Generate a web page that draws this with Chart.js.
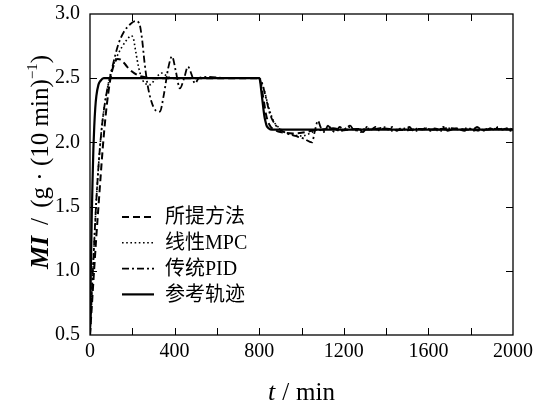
<!DOCTYPE html>
<html>
<head>
<meta charset="utf-8">
<script src="https://cdn.jsdelivr.net/npm/chart.js@4.4.1/dist/chart.umd.min.js"></script>
<style>
    html, body { margin: 0; padding: 0; background: #fff; }
    #wrap { width: 536px; height: 405px; }
</style>
</head>
<body>
<div id="wrap"><canvas id="myChart" width="536" height="405"></canvas></div>
<script>
// Data (t in min, MI in g/(10 min))
const seriesLabels = ['所提方法', '线性MPC', '传统PID', '参考轨迹'];

const tProp = [0, 10, 20, 30, 40, 50, 60, 70, 80, 95, 110, 130, 150, 175, 200, 230, 270, 320, 400, 500, 600, 700, 800,
    808, 816, 824, 832, 842, 855, 870, 890, 920, 960, 1000, 1050, 1100, 1150, 1200, 1260, 1320, 1380, 1440, 1500,
    1560, 1620, 1700, 1780, 1850, 1920, 2000];
const miProp = [0.5, 0.76, 1.02, 1.27, 1.5, 1.73, 1.95, 2.14, 2.3, 2.48, 2.59, 2.65, 2.64, 2.59, 2.55, 2.52, 2.505, 2.5, 2.5, 2.5, 2.5, 2.5, 2.5,
    2.46, 2.38, 2.3, 2.22, 2.16, 2.12, 2.1, 2.085, 2.075, 2.07, 2.075, 2.09, 2.1, 2.11, 2.095, 2.105, 2.1, 2.11, 2.1, 2.095,
    2.105, 2.1, 2.11, 2.1, 2.095, 2.105, 2.1];

const tMpc = [0, 15, 30, 45, 60, 80, 100, 125, 150, 175, 195, 205, 215, 228, 240, 260, 285, 310, 340, 370, 420, 500, 600, 700, 800,
    810, 825, 840, 855, 870, 890, 920, 960, 1000, 1040, 1080, 1105, 1130, 1160, 1190, 1220, 1250, 1285, 1320, 1355, 1390,
    1425, 1460, 1500, 1540, 1580, 1620, 1660, 1700, 1740, 1780, 1820, 1860, 1900, 1940, 1980, 2000];
const miMpc = [0.5, 1.05, 1.55, 1.92, 2.18, 2.4, 2.55, 2.66, 2.74, 2.8, 2.83, 2.81, 2.72, 2.6, 2.52, 2.46, 2.45, 2.5, 2.54, 2.51, 2.5, 2.5, 2.5, 2.5, 2.5,
    2.47, 2.4, 2.3, 2.22, 2.16, 2.12, 2.08, 2.06, 2.05, 2.07, 2.1, 2.08, 2.12, 2.1, 2.09, 2.12, 2.1, 2.08, 2.11, 2.1, 2.12,
    2.09, 2.1, 2.11, 2.09, 2.11, 2.1, 2.09, 2.11, 2.1, 2.11, 2.09, 2.1, 2.11, 2.1, 2.11, 2.1];

const tPid = [0, 15, 30, 45, 60, 80, 95, 115, 135, 160, 190, 215, 232, 245, 258, 272, 290, 310, 330, 350, 370, 388, 405, 425,
    445, 463, 480, 496, 515, 560, 650, 800,
    812, 830, 851, 875, 898, 930, 970, 1010, 1050, 1062, 1078, 1090, 1110, 1125, 1140, 1160, 1180, 1200, 1230, 1250, 1270,
    1290, 1310, 1330, 1350, 1370, 1390, 1410, 1430, 1450, 1470, 1490, 1510, 1530, 1550, 1570, 1590, 1610, 1630, 1650,
    1670, 1690, 1710, 1730, 1750, 1770, 1790, 1810, 1830, 1850, 1870, 1890, 1910, 1930, 1950, 1970, 1990, 2000];
const miPid = [0.5, 1.05, 1.55, 1.92, 2.18, 2.4, 2.51, 2.65, 2.77, 2.86, 2.92, 2.945, 2.93, 2.82, 2.62, 2.45, 2.32, 2.25, 2.24, 2.38, 2.58, 2.67, 2.56, 2.42,
    2.5, 2.59, 2.53, 2.46, 2.5, 2.51, 2.5, 2.5,
    2.47, 2.36, 2.22, 2.14, 2.1, 2.07, 2.05, 2.03, 2.0, 2.08, 2.17, 2.12, 2.09, 2.13, 2.1, 2.08, 2.12, 2.1, 2.13, 2.09, 2.11,
    2.08, 2.12, 2.1, 2.12, 2.09, 2.11, 2.1, 2.12, 2.09, 2.11, 2.1, 2.12, 2.09, 2.11, 2.1, 2.11, 2.09, 2.11, 2.1,
    2.12, 2.09, 2.1, 2.11, 2.1, 2.09, 2.11, 2.1, 2.12, 2.1, 2.09, 2.11, 2.1, 2.12, 2.1, 2.11, 2.09, 2.1];

const tRef = [0, 4, 8, 12, 16, 20, 25, 30, 40, 50, 65, 800, 805, 810, 815, 820, 825, 830, 835, 845, 860, 2000];
const miRef = [0.5, 1.0, 1.4, 1.7, 1.95, 2.12, 2.27, 2.36, 2.45, 2.48, 2.5, 2.5, 2.47, 2.4, 2.33, 2.26, 2.2, 2.16, 2.13, 2.11, 2.1, 2.1];

// Axis ticks
const xTickMarks = [200, 400, 600, 800, 1000, 1200, 1400, 1600, 1800];
const yTickMarks = [1.0, 1.5, 2.0, 2.5];

const FONT = "'Liberation Serif', 'Times New Roman', 'Noto Sans CJK SC', serif";

function toPoints(ts, vs) {
    return ts.map((t, i) => ({ x: t, y: vs[i] }));
}

// draw a run of [font, text, dy, gapAfter] pieces centred on cx, spread to a total length
function drawSpread(ctx, parts, cx, baseY, total) {
    let w = 0;
    parts.forEach(p => { ctx.font = p[0]; w += ctx.measureText(p[1]).width; });
    const gaps = parts.filter(p => p[3]).length;
    const extra = gaps ? Math.max(0, total - w) / gaps : 0;
    let x = cx - (w + extra * gaps) / 2;
    parts.forEach(p => {
        ctx.font = p[0];
        ctx.fillText(p[1], x, baseY + p[2]);
        x += ctx.measureText(p[1]).width + (p[3] ? extra : 0);
    });
}

// Frame, inward ticks, legend and axis titles
const decorPlugin = {
    id: 'decor',
    afterDraw(chart) {
        const ctx = chart.ctx;
        const a = chart.chartArea;
        const xs = chart.scales.x;
        const ys = chart.scales.y;
        ctx.save();
        ctx.strokeStyle = '#000';
        ctx.lineWidth = 1.3;
        ctx.setLineDash([]);
        ctx.strokeRect(a.left, a.top, a.right - a.left, a.bottom - a.top);

        ctx.lineWidth = 1;
        ctx.beginPath();
        xTickMarks.forEach(v => {
            const px = Math.round(xs.getPixelForValue(v)) + 0.5;
            ctx.moveTo(px, a.bottom); ctx.lineTo(px, a.bottom - 7);
            ctx.moveTo(px, a.top); ctx.lineTo(px, a.top + 7);
        });
        yTickMarks.forEach(v => {
            const py = Math.round(ys.getPixelForValue(v)) + 0.5;
            ctx.moveTo(a.left, py); ctx.lineTo(a.left + 7, py);
            ctx.moveTo(a.right, py); ctx.lineTo(a.right - 7, py);
        });
        ctx.stroke();

        // legend
        const lx = 122, ly = 217, rowH = 25.8;
        ctx.font = '20px ' + FONT;
        ctx.textBaseline = 'middle';
        ctx.fillStyle = '#000';
        chart.data.datasets.forEach((ds, i) => {
            const y = ly + i * rowH;
            ctx.lineWidth = ds.borderWidth;
            ctx.setLineDash(ds.borderDash || []);
            ctx.beginPath();
            ctx.moveTo(lx, y); ctx.lineTo(lx + 32, y);
            ctx.stroke();
            ctx.setLineDash([]);
            ctx.fillText(ds.label, lx + 43, y + 1);
        });

        // x title
        ctx.textBaseline = 'alphabetic';
        const cx = (a.left + a.right) / 2;
        drawSpread(ctx, [
            ['italic 26px ' + FONT, 't ', 0, true],
            ['25px ' + FONT, '/ ', 0, true],
            ['25px ' + FONT, 'min', 0, false]
        ], cx, 400, 67);

        // y title (rotated)
        ctx.translate(48, 162);
        ctx.rotate(-Math.PI / 2);
        drawSpread(ctx, [
            ['italic bold 26px ' + FONT, 'MI ', 0, true],
            ['25px ' + FONT, '/ ', 0, true],
            ['25px ' + FONT, '(g ', 0, false],
            ['25px ' + FONT, '· ', 0, false],
            ['25px ' + FONT, '(10 min)', 0, false],
            ['15px ' + FONT, '−1', -11, false],
            ['25px ' + FONT, ')', 0, false]
        ], 0, 0, 214);
        ctx.restore();
    }
};

const ctx = document.getElementById('myChart').getContext('2d');
const myChart = new Chart(ctx, {
    type: 'line',
    data: {
        datasets: [
            {
                label: seriesLabels[0],
                data: toPoints(tProp, miProp),
                borderColor: '#000',
                borderWidth: 2,
                borderDash: [7, 4]
            },
            {
                label: seriesLabels[1],
                data: toPoints(tMpc, miMpc),
                borderColor: '#000',
                borderWidth: 1.6,
                borderDash: [1.6, 2.6]
            },
            {
                label: seriesLabels[2],
                data: toPoints(tPid, miPid),
                borderColor: '#000',
                borderWidth: 1.8,
                borderDash: [7, 3, 2, 3]
            },
            {
                label: seriesLabels[3],
                data: toPoints(tRef, miRef),
                borderColor: '#000',
                borderWidth: 2.2,
                borderDash: []
            }
        ]
    },
    options: {
        responsive: false,
        animation: false,
        devicePixelRatio: 1,
        elements: {
            point: { radius: 0 },
            line: { cubicInterpolationMode: 'monotone', fill: false }
        },
        layout: { padding: { left: 0, right: 23, top: 14, bottom: 0 } },
        plugins: {
            legend: { display: false },
            tooltip: { enabled: false },
            title: { display: false }
        },
        scales: {
            x: {
                type: 'linear',
                min: 0,
                max: 2000,
                grid: { display: false, drawTicks: false },
                border: { display: false },
                ticks: {
                    stepSize: 400,
                    padding: 5,
                    color: '#000',
                    font: { family: FONT, size: 20 },
                    maxRotation: 0,
                    callback: v => String(v)
                },
                afterFit: s => {
                    s.height = 70;
                    s.paddingLeft = 0;
                    s.paddingRight = 0;
                }
            },
            y: {
                type: 'linear',
                min: 0.5,
                max: 3.0,
                grid: { display: false, drawTicks: false },
                border: { display: false },
                ticks: {
                    stepSize: 0.5,
                    padding: 10,
                    color: '#000',
                    font: { family: FONT, size: 20 },
                    callback: v => v.toFixed(1)
                },
                afterFit: s => {
                    s.width = 90;
                    s.paddingTop = 0;
                    s.paddingBottom = 0;
                }
            }
        }
    },
    plugins: [decorPlugin]
});
</script>
</body>
</html>
